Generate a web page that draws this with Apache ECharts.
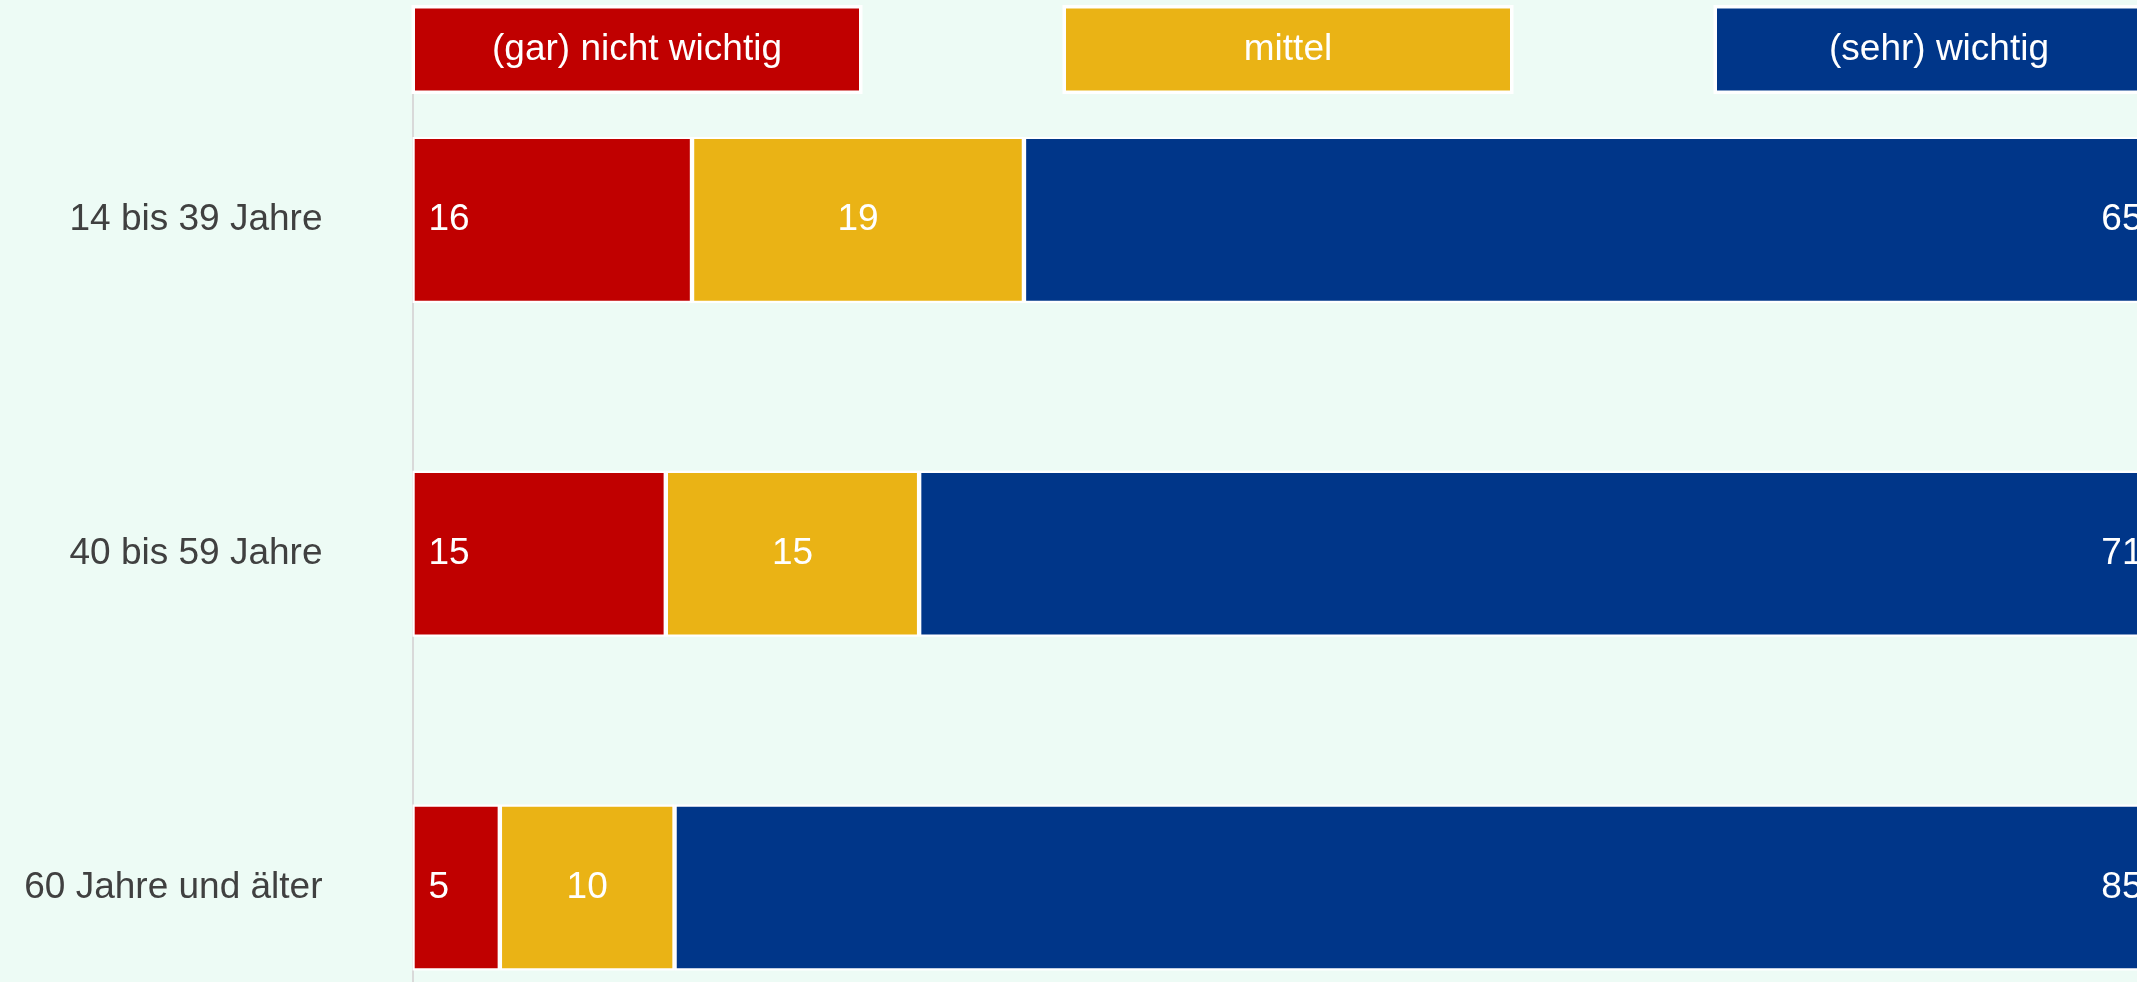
<!DOCTYPE html>
<html>
<head>
<meta charset="utf-8">
<script src="https://cdn.jsdelivr.net/npm/echarts@6/dist/echarts.min.js"></script>
<style>
html,body{margin:0;padding:0;background:#edfbf5;}
#chart{width:2137px;height:982px;}
</style>
</head>
<body>
<div id="chart"></div>
<script>
const categories = ['14 bis 39 Jahre', '40 bis 59 Jahre', '60 Jahre und älter'];
const seriesNames = ['(gar) nicht wichtig', 'mittel', '(sehr) wichtig'];
const nichtWichtig = [16, 14.5, 5];
const mittel = [19, 14.5, 10];
const wichtig = [65, 71, 85];
const colors = ['#c00000', '#eab315', '#003689'];

const FONT = "'Liberation Sans', Arial, sans-serif";
const richKeys = ['r', 'y', 'b'];
const rich = {};
richKeys.forEach((k, i) => {
  rich[k] = {
    color: '#ffffff',
    fontSize: 37,
    fontFamily: FONT,
    backgroundColor: colors[i],
    borderColor: '#ffffff',
    borderWidth: 3.5,
    width: 444,
    height: 82,
    lineHeight: 82,
    align: 'center'
  };
});

const labelPos = ['insideLeft', 'inside', 'insideRight'];
const labelDist = [16, 5, 17];
const seriesData = [nichtWichtig, mittel, wichtig];

const chart = echarts.init(document.getElementById('chart'));
chart.setOption({
  backgroundColor: '#edfbf5',
  animation: false,
  legend: {
    data: seriesNames,
    left: 410,
    top: 5,
    width: 2100,
    padding: 0,
    icon: 'none',
    itemWidth: 0,
    itemHeight: 10,
    itemGap: 198.5,
    selectedMode: false,
    formatter: function (name) {
      return '{' + richKeys[seriesNames.indexOf(name)] + '|' + name + '}';
    },
    textStyle: { rich: rich }
  },
  grid: {
    left: 412.5,
    right: -22.5,
    top: 53,
    bottom: -72.4,
    containLabel: false,
    outerBoundsMode: 'none'
  },
  xAxis: {
    type: 'value',
    min: 0,
    max: 100,
    show: false,
    splitLine: { show: false }
  },
  yAxis: {
    type: 'category',
    data: categories,
    inverse: true,
    axisLine: { show: true, lineStyle: { color: '#d9d9d9', width: 2 } },
    axisTick: { show: false },
    axisLabel: {
      color: '#404040',
      fontSize: 37,
      fontFamily: FONT,
      margin: 90
    },
    splitLine: { show: false }
  },
  series: seriesNames.map((name, i) => ({
    name: name,
    type: 'bar',
    stack: 'total',
    data: seriesData[i],
    barWidth: 166,
    itemStyle: { color: colors[i], borderColor: '#ffffff', borderWidth: 2.2 },
    label: {
      show: true,
      position: labelPos[i],
      distance: labelDist[i],
      color: '#ffffff',
      fontSize: 37,
      fontFamily: FONT,
      formatter: function (p) { return String(Math.round(p.value)); }
    }
  }))
});
</script>
</body>
</html>
